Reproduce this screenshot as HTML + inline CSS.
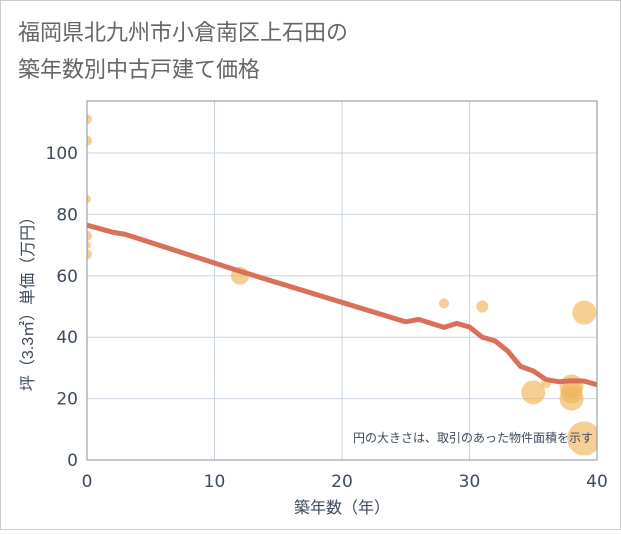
<!DOCTYPE html>
<html><head><meta charset="utf-8"><style>
body{margin:0;background:#fff;}
svg text{font-family:"Liberation Sans","Noto Sans CJK JP",sans-serif;}
svg text.tk{font-family:"DejaVu Sans","Liberation Sans",sans-serif;}
</style></head><body>
<svg id="c" width="621" height="530" xmlns="http://www.w3.org/2000/svg">
<defs><clipPath id="pc"><rect x="87" y="101" width="510" height="359"/></clipPath></defs>
<rect x="0.5" y="0.5" width="620" height="529" fill="#fff" stroke="#ccc"/>
<text x="18" y="40" font-size="22" fill="#666">福岡県北九州市小倉南区上石田の</text>
<text x="18" y="77" font-size="22" fill="#666">築年数別中古戸建て価格</text>
<g id="grid"></g>
<g id="pts" clip-path="url(#pc)"></g>
<path id="ln" fill="none" stroke="#d9705a" stroke-width="5" stroke-linejoin="round" clip-path="url(#pc)"/>
<g id="axes"></g>
<text x="593" y="442" font-size="12" fill="#3d4a5c" text-anchor="end">円の大きさは、取引のあった物件面積を示す</text>
<text x="342" y="513" font-size="16" fill="#3d4a5c" text-anchor="middle">築年数（年）</text>
<text transform="translate(33,300) rotate(-90)" font-size="16" fill="#3d4a5c" text-anchor="middle">坪（3.3㎡）単価（万円）</text>
</svg>
<script>
const xTicks=[0,10,20,30,40];
const yTicks=[0,20,40,60,80,100];
const ptX=[0,0,0,0,0,0,12,28,31,39,35,36,38,38,38,39];
const ptY=[111,104,85,73,70,67,60,51,50,48,22,25,24,22,20,7];
const ptR=[5,5,4,5,4,5,9,5,6,12,12,5,12,11,12,17];
const lineX=[0,2,3,12,25,26,28,29,30,31,32,33,34,35,36,37,38,39,40];
const lineY=[76.5,74.2,73.5,61.5,45,45.8,43.2,44.5,43.3,40,38.8,35.5,30.5,29,26.2,25.5,25.8,25.7,24.5];
const X0=87,X1=597,Y0=460,Y1=101;
const sx=v=>X0+v*(X1-X0)/40;
const sy=v=>Y0-v*3.07;
const NS="http://www.w3.org/2000/svg";
const g=document.getElementById('grid'),ax=document.getElementById('axes'),pg=document.getElementById('pts');
function mk(t,a,p){const e=document.createElementNS(NS,t);for(const k in a)e.setAttribute(k,a[k]);p.appendChild(e);return e;}
xTicks.forEach(v=>{
const l=mk('line',{x1:sx(v),x2:sx(v),y1:Y1,y2:Y0,stroke:'#c8d4e0'},g);


const t=mk('text',{x:sx(v),y:487,'font-size':17,fill:'#3d4a5c','text-anchor':'middle',class:'tk'},ax);t.textContent=v;


});
yTicks.forEach(v=>{
const l=mk('line',{x1:X0,x2:X1,y1:sy(v),y2:sy(v),stroke:'#c8d4e0'},g);


const t=mk('text',{x:78,y:sy(v)+6,'font-size':17,fill:'#3d4a5c','text-anchor':'end',class:'tk'},ax);t.textContent=v;


});
const fr=mk('rect',{x:X0,y:Y1,width:X1-X0,height:Y0-Y1,fill:'none',stroke:'#8a9099'},ax);


ptX.forEach((v,i)=>{
const c=mk('circle',{cx:sx(v),cy:sy(ptY[i]),r:ptR[i],fill:'#f0b65a','fill-opacity':0.65},pg);


});
document.getElementById('ln').setAttribute('d',lineX.map((v,i)=>(i?'L':'M')+sx(v)+','+sy(lineY[i])).join(''));
</script>
</body></html>
